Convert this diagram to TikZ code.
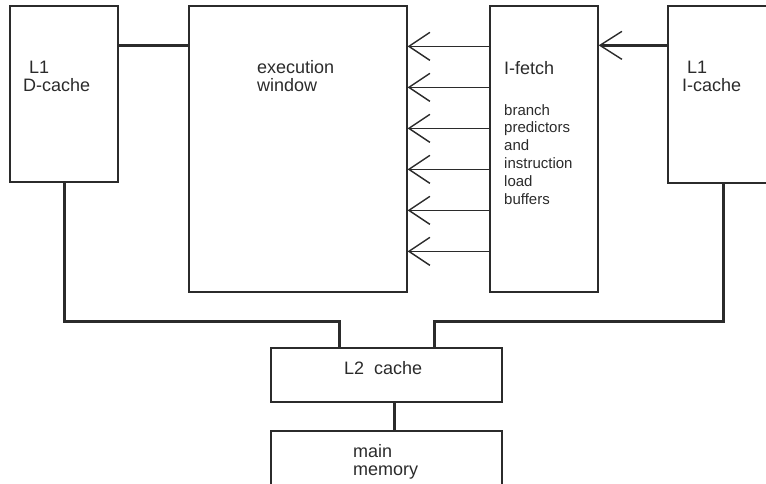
\documentclass[tikz,border=0pt]{standalone}
\usepackage{fontspec}
\setmainfont{Liberation Sans}
\usetikzlibrary{arrows.meta}
\definecolor{ink}{HTML}{2B2B2B}
\tikzset{
  box/.style={draw=ink, line width=1.3pt, rectangle, inner sep=0pt},
  lbl/.style={anchor=base west, inner sep=0pt, align=left, text=ink, font=\fontsize{18}{18}\selectfont},
  small/.style={anchor=base west, inner sep=0pt, align=left, text=ink, font=\fontsize{15}{17.8}\selectfont},
  bus/.style={draw=ink, line width=3pt},
  feed/.style={draw=ink, line width=1.4pt, -{Straight Barb[length=21pt, width=28pt, line width=1.4pt]}},
  feedbus/.style={draw=ink, line width=3pt, -{Straight Barb[length=22pt, width=28pt, line width=1.4pt]}}
}
\begin{document}
\begin{tikzpicture}[x=1pt, y=-1pt]
\useasboundingbox (0,0) rectangle (766,483);
\clip (0,0) rectangle (766,483);
% boxes
\node[box, minimum width=108pt, minimum height=176pt] (dc) at (64,94) {};
\node[box, minimum width=218pt, minimum height=286pt] (ew) at (298,149) {};
\node[box, minimum width=108pt, minimum height=286pt] (if) at (544,149) {};
\node[box, minimum width=110pt, minimum height=177pt] (ic) at (723,94.5) {};
\node[box, minimum width=231pt, minimum height=54pt] (l2) at (386.5,375) {};
\node[box, minimum width=231pt, minimum height=60pt] (mm) at (386.5,461) {};
% labels (anchored at the baseline of the last line)
\node[lbl] (tdc) at (23,91) {\hspace*{6pt}L1\\D-cache};
\node[lbl] (tew) at (257,91) {execution\\window};
\node[lbl] (tif) at (504,74) {I-fetch};
\node[small] (tbr) at (504,204) {branch\\predictors\\and\\instruction\\load\\buffers};
\node[lbl] (tic) at (682,91) {\hspace*{5pt}L1\\I-cache};
\node[lbl] (tl2) at (344,374) {L2\ \ cache};
\node[lbl] (tmm) at (353,475) {main\\memory};
% connectors
\draw[bus] ([yshift=-40pt]dc.north east) -- ([yshift=-40pt]ew.north west);
\draw[feedbus] ([yshift=-40pt]ic.north west) -- ([yshift=-40pt]if.north east);
\foreach \d in {41,82,123,164,205,246}
  \draw[feed] ([yshift=-\d pt]if.north west) -- ([yshift=-\d pt]ew.north east);
\coordinate (busy) at (0,321);
\coordinate (l2a) at (339,348);
\coordinate (l2b) at (434,348);
\coordinate (l2o) at (394,402);
\draw[bus] (dc.south) -- (dc.south |- busy) -| (l2a);
\draw[bus] (ic.south) -- (ic.south |- busy) -| (l2b);
\draw[bus] (l2o) -- (l2o |- mm.north);
\end{tikzpicture}
\end{document}
